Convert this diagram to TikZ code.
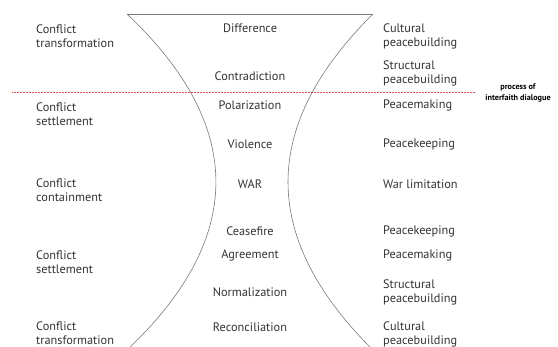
\documentclass[tikz,border=0pt]{standalone}
\usepackage{fontspec}
\setmainfont{PT Sans}
\usetikzlibrary{positioning}
\definecolor{textgrey}{HTML}{333333}
\definecolor{funnelgrey}{HTML}{7A7A7A}
\definecolor{dialoguered}{HTML}{E05555}

\begin{document}
\begin{tikzpicture}[x=1pt, y=-1pt,
		every node/.style={text=textgrey, inner sep=0pt, font=\fontsize{12.3}{14}\selectfont},
		strategy/.style={anchor=west, align=left},
		stage/.style={anchor=center, align=center},
		response/.style={anchor=west, align=left},
		funnel/.style={funnelgrey, line width=0.6pt}]
				
				\useasboundingbox (0,0) rectangle (558,347);
				
				\pgfmathsetmacro{\leftx}{36}
				\pgfmathsetmacro{\midx}{250}
				\pgfmathsetmacro{\rightx}{383}
				
				\draw[funnel] (127,14) -- (373,14);
				\draw[funnel] (127,14) .. controls (244.5,125) and (245.5,236) .. (130.2,347);
				\draw[funnel] (373,14) .. controls (260.7,125) and (259.7,236) .. (370,347);
				
				\coordinate (redstart) at (12,92.5);
				\coordinate (redend) at (475,92.5);
				\draw[dialoguered, densely dotted, line width=0.5pt] (redstart) -- (redend);
				
				\node[strategy] (ctrans1) at (\leftx,36) {Conflict\\transformation};
				\node[strategy] (csettle1) at (\leftx,114) {Conflict\\settlement};
				\node[strategy] (ccontain) at (\leftx,190.5) {Conflict\\containment};
				\node[strategy] (csettle2) at (\leftx,262.5) {Conflict\\settlement};
				\node[strategy] (ctrans2) at (\leftx,333.5) {Conflict\\transformation};
				
				\node[stage] (difference) at (\midx,28.5) {Difference};
				\node[stage] (contradiction) at (\midx,76) {Contradiction};
				\node[stage] (polarization) at (\midx,105) {Polarization};
				\node[stage] (violence) at (\midx,144) {Violence};
				\node[stage] (war) at (\midx,184) {WAR};
				\node[stage] (ceasefire) at (\midx,231) {Ceasefire};
				\node[stage] (agreement) at (\midx,255) {Agreement};
				\node[stage] (normalization) at (\midx,292) {Normalization};
				\node[stage] (reconciliation) at (\midx,327) {Reconciliation};
				
				\node[response] (cultural1) at (\rightx,36) {Cultural\\peacebuilding};
				\node[response] (structural1) at (\rightx,73.5) {Structural\\peacebuilding};
				\node[response] (peacemaking1) at (\rightx,105) {Peacemaking};
				\node[response] (peacekeeping1) at (\rightx,144) {Peacekeeping};
				\node[response] (warlimit) at (\rightx,184) {War limitation};
				\node[response] (peacekeeping2) at (\rightx,231) {Peacekeeping};
				\node[response] (peacemaking2) at (\rightx,255) {Peacemaking};
				\node[response] (structural2) at (\rightx,292.5) {Structural\\peacebuilding};
				\node[response] (cultural2) at (\rightx,334) {Cultural\\peacebuilding};
				
				\node[stage, text=black, font=\fontsize{8.2}{11}\selectfont\bfseries] (dialogue) at (518,92.5) {process of\\interfaith dialogue};
				\end{tikzpicture}
\end{document}
